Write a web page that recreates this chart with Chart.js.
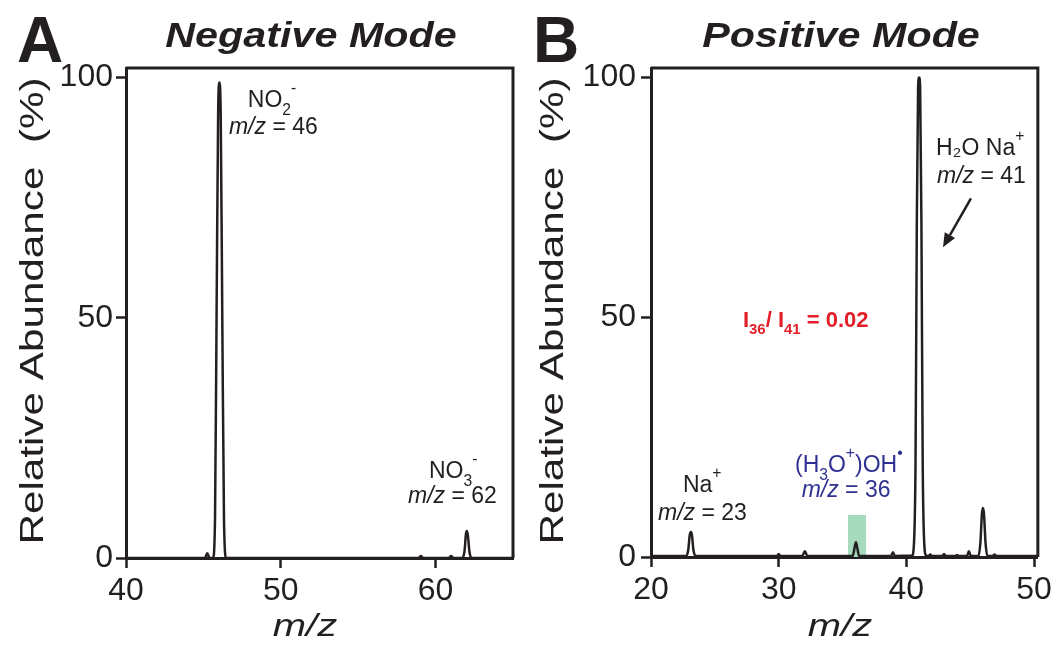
<!DOCTYPE html>
<html>
<head>
<meta charset="utf-8">
<script src="https://cdn.jsdelivr.net/npm/chart.js@4.4.1/dist/chart.umd.min.js"></script>
<style>
  html, body { margin: 0; padding: 0; background: #fff; }
  #wrap { position: relative; width: 1056px; height: 648px; }
  canvas { position: absolute; top: 0; }
</style>
</head>
<body>
<div id="wrap">
  <canvas id="chartA" width="528" height="648" style="left:0"></canvas>
  <canvas id="chartB" width="528" height="648" style="left:528px"></canvas>
</div>
<script>
// ---- data ----
const negMz = [40, 45.1, 45.25, 45.4, 45.62, 45.75, 45.85, 45.95, 46.03, 46.12, 46.22, 46.33, 46.47,
  58.9, 59.05, 59.2, 60.85, 61.0, 61.15, 61.72, 61.87, 61.96, 62.02, 62.09, 62.19, 62.34, 65];
const negAbund = [0, 0, 1.0, 0, 0, 8, 50, 92, 99, 92, 50, 8, 0,
  0, 0.4, 0, 0, 0.4, 0, 0, 1.5, 5, 5.6, 4.6, 1.2, 0, 0];

const posMz = [20, 22.75, 22.92, 23.03, 23.12, 23.21, 23.32, 23.5,
  29.85, 30.0, 30.15, 31.85, 32.05, 32.25,
  35.8, 35.95, 36.05, 36.15, 36.3, 38.8, 38.95, 39.1,
  40.45, 40.6, 40.72, 40.82, 40.92, 41.0, 41.08, 41.18, 41.28, 41.4, 41.55,
  41.75, 41.87, 42.0, 42.8, 42.95, 43.1, 43.85, 43.97, 44.1, 44.75, 44.9, 45.05,
  45.65, 45.8, 45.92, 46.0, 46.08, 46.2, 46.35, 46.75, 46.9, 47.05, 50.3];
const posAbund = [0.2, 0.2, 1.5, 4.5, 5.2, 4.5, 1.5, 0.2,
  0.2, 0.6, 0.2, 0.2, 1.2, 0.2,
  0.2, 2, 3.1, 2, 0.2, 0.2, 1.0, 0.2,
  0.3, 3, 20, 70, 98, 100, 98, 70, 20, 3, 0.3,
  0.2, 0.5, 0.2, 0.2, 0.6, 0.2, 0.2, 0.4, 0.2, 0.2, 1.2, 0.2,
  0.2, 3, 9, 10.2, 9, 3, 0.2, 0.2, 0.5, 0.2, 0.2];

// shaded window around m/z 36
const highlightMz = [35.43, 36.84];
const highlightAbund = [8.75, 8.75];

const negTicksX = [40, 50, 60];
const posTicksX = [20, 30, 40, 50];
const ticksY = [0, 50, 100];

const INK = '#231f20';
const FONT = '"Liberation Sans", Arial, sans-serif';

function toPoints(xs, ys) {
  return xs.map((x, i) => ({ x: x, y: ys[i] }));
}

function drawRich(ctx, parts, x, y, size, color) {
  let cx = x;
  ctx.fillStyle = color;
  ctx.textAlign = 'left';
  ctx.textBaseline = 'alphabetic';
  parts.forEach(p => {
    const small = p.sub || p.sup;
    const fs = small ? size * 0.68 : size;
    ctx.font = (p.italic ? 'italic ' : '') + (p.bold ? 'bold ' : '') + fs + 'px ' + FONT;
    const dy = p.sub ? size * 0.32 : (p.sup ? -size * 0.62 : 0);
    ctx.fillText(p.t, cx, y + dy);
    cx += ctx.measureText(p.t).width;
  });
}

function stretchText(ctx, text, x, y, font, sx, rotate) {
  ctx.save();
  ctx.translate(x, y);
  if (rotate) ctx.rotate(-Math.PI / 2);
  ctx.scale(sx, 1);
  ctx.font = font;
  ctx.fillStyle = INK;
  ctx.textAlign = 'center';
  ctx.textBaseline = 'alphabetic';
  ctx.fillText(text, 0, 0);
  ctx.restore();
}

// frame, panel letter, titles, peak labels
const panelText = {
  id: 'panelText',
  afterDraw(chart, args, o) {
    const ctx = chart.ctx;
    const { left, right, top, bottom } = chart.chartArea;
    const xs = chart.scales.x, ys = chart.scales.y;
    ctx.save();
    ctx.strokeStyle = INK;
    ctx.lineWidth = 3;
    ctx.lineJoin = 'miter';
    ctx.beginPath();
    ctx.moveTo(left, top);
    ctx.lineTo(right, top);
    ctx.lineTo(right, bottom);
    ctx.stroke();

    ctx.fillStyle = INK;
    ctx.font = 'bold 64px ' + FONT;
    ctx.textAlign = 'left';
    ctx.textBaseline = 'alphabetic';
    ctx.fillText(o.letter, o.letterX, 62);

    stretchText(ctx, o.title, o.titleX, 47, 'italic bold 35px ' + FONT, 1.18, false);
    stretchText(ctx, 'Relative Abundance  (%)', o.yTitleX, 311, '33px ' + FONT, 1.28, true);
    stretchText(ctx, 'm/z', o.xTitleX, 636, 'italic 32px ' + FONT, 1.25, false);

    o.labels.forEach(l => {
      drawRich(ctx, l.parts, xs.getPixelForValue(l.x), ys.getPixelForValue(l.y), l.size, l.color);
    });

    if (o.arrow) {
      const x1 = xs.getPixelForValue(o.arrow.from[0]), y1 = ys.getPixelForValue(o.arrow.from[1]);
      const x2 = xs.getPixelForValue(o.arrow.to[0]), y2 = ys.getPixelForValue(o.arrow.to[1]);
      const ang = Math.atan2(y2 - y1, x2 - x1);
      const hl = 14, hw = 6;
      const bx = x2 - hl * Math.cos(ang), by = y2 - hl * Math.sin(ang);
      ctx.strokeStyle = INK;
      ctx.fillStyle = INK;
      ctx.lineWidth = 2.5;
      ctx.beginPath();
      ctx.moveTo(x1, y1);
      ctx.lineTo(bx, by);
      ctx.stroke();
      ctx.beginPath();
      ctx.moveTo(x2, y2);
      ctx.lineTo(bx + hw * Math.sin(ang), by - hw * Math.cos(ang));
      ctx.lineTo(bx - hw * Math.sin(ang), by + hw * Math.cos(ang));
      ctx.closePath();
      ctx.fill();
    }
    ctx.restore();
  }
};

function makeChart(id, p) {
  const datasets = [{
    data: toPoints(p.mz, p.abund),
    borderColor: INK,
    borderWidth: 2.5,
    pointRadius: 0,
    cubicInterpolationMode: 'monotone',
    fill: false,
    clip: false
  }];
  if (p.highlight) {
    datasets.push({
      data: toPoints(p.highlight[0], p.highlight[1]),
      borderWidth: 0,
      borderColor: 'rgba(0,0,0,0)',
      backgroundColor: '#a6dbbd',
      pointRadius: 0,
      fill: 'origin'
    });
  }
  return new Chart(document.getElementById(id), {
    type: 'line',
    data: { datasets: datasets },
    options: {
      responsive: false,
      animation: false,
      events: [],
      layout: { padding: { top: 68, right: p.padRight, bottom: 0, left: 0 } },
      plugins: {
        legend: { display: false },
        tooltip: { enabled: false },
        panelText: p.text
      },
      scales: {
        x: {
          type: 'linear',
          min: p.xMin,
          max: p.xMax,
          afterFit: s => { s.height = p.xHeight; },
          afterBuildTicks: s => { s.ticks = p.ticksX.map(v => ({ value: v })); },
          grid: { drawOnChartArea: false, drawTicks: true, tickLength: 10, tickWidth: 2.5, color: INK },
          border: { display: true, width: 3, color: INK },
          ticks: { color: INK, padding: 4, maxRotation: 0, font: { family: FONT, size: 32 } }
        },
        y: {
          min: 0,
          max: 102,
          afterFit: s => { s.width = p.yWidth; },
          afterBuildTicks: s => { s.ticks = ticksY.map(v => ({ value: v })); },
          grid: { drawOnChartArea: false, drawTicks: true, tickLength: 10, tickWidth: 2.5, color: INK },
          border: { display: true, width: 3, color: INK },
          ticks: { color: INK, padding: p.yPad, font: { family: FONT, size: 32 } }
        }
      }
    },
    plugins: [panelText]
  });
}

makeChart('chartA', {
  mz: negMz, abund: negAbund, xMin: 40, xMax: 65, ticksX: negTicksX,
  padRight: 15, yWidth: 126, xHeight: 90, yPad: 3,
  text: {
    letter: 'A', letterX: 17, title: 'Negative Mode', titleX: 311, yTitleX: 43, xTitleX: 305,
    labels: [
      { x: 47.87, y: 93.8, size: 23, color: INK, parts: [{ t: 'NO' }, { t: '2', sub: true }, { t: '-', sup: true }] },
      { x: 46.65, y: 88.2, size: 23, color: INK, parts: [{ t: 'm/z', italic: true }, { t: ' = 46' }] },
      { x: 59.57, y: 16.6, size: 23, color: INK, parts: [{ t: 'NO' }, { t: '3', sub: true }, { t: '-', sup: true }] },
      { x: 58.22, y: 11.35, size: 23, color: INK, parts: [{ t: 'm/z', italic: true }, { t: ' = 62' }] }
    ]
  }
});

makeChart('chartB', {
  mz: posMz, abund: posAbund, xMin: 20, xMax: 50.3, ticksX: posTicksX,
  highlight: [highlightMz, highlightAbund],
  padRight: 18, yWidth: 123, xHeight: 91, yPad: 5,
  text: {
    letter: 'B', letterX: 5, title: 'Positive Mode', titleX: 313, yTitleX: 35, xTitleX: 312,
    labels: [
      { x: 42.32, y: 83.75, size: 23, color: INK, parts: [{ t: 'H\u2082O Na' }, { t: '+', sup: true }] },
      { x: 42.4, y: 78.1, size: 23, color: INK, parts: [{ t: 'm/z', italic: true }, { t: ' = 41' }] },
      { x: 27.2, y: 47.9, size: 22, color: '#e3202a', parts: [{ t: 'I', bold: true }, { t: '36', sub: true, bold: true }, { t: '/ I', bold: true }, { t: '41', sub: true, bold: true }, { t: ' = 0.02', bold: true }] },
      { x: 22.5, y: 13.5, size: 23, color: INK, parts: [{ t: 'Na' }, { t: '+', sup: true }] },
      { x: 20.55, y: 7.7, size: 23, color: INK, parts: [{ t: 'm/z', italic: true }, { t: ' = 23' }] },
      { x: 31.28, y: 17.7, size: 23, color: '#2e3192', parts: [{ t: '(H' }, { t: '3', sub: true }, { t: 'O' }, { t: '+', sup: true }, { t: ')OH' }, { t: '\u2022', sup: true }] },
      { x: 31.8, y: 12.5, size: 23, color: '#2e3192', parts: [{ t: 'm/z', italic: true }, { t: ' = 36' }] }
    ],
    arrow: { from: [45.06, 74.8], to: [42.87, 64.6] }
  }
});
</script>
</body>
</html>
